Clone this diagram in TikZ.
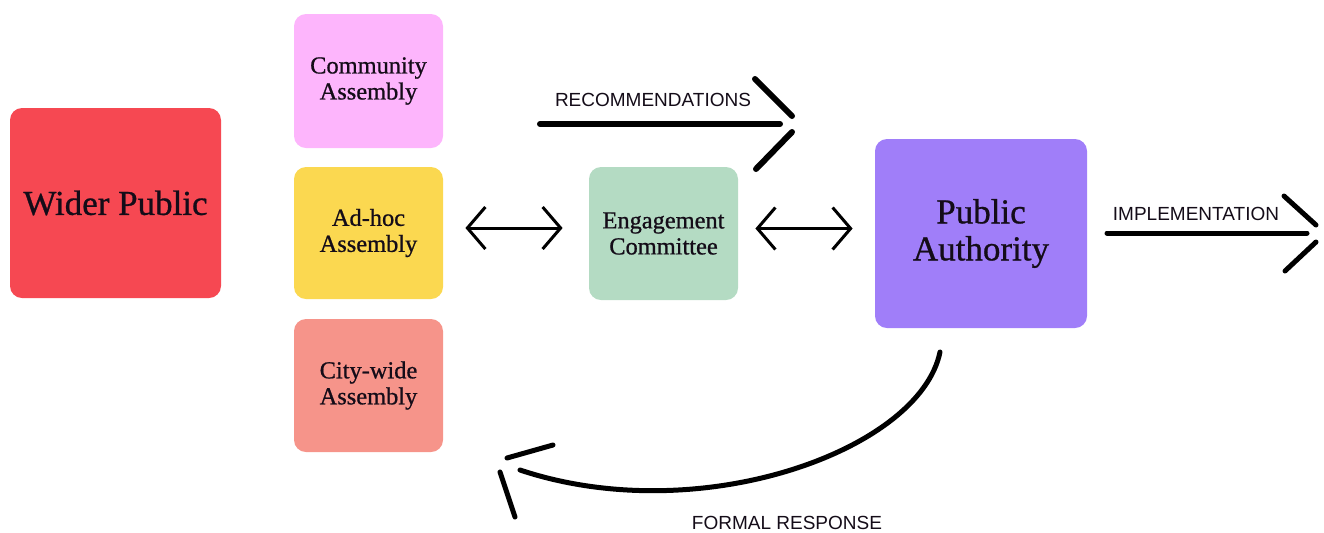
\documentclass[tikz,border=0pt]{standalone}
\usepackage{fontspec}
\setmainfont{Liberation Serif}
\setsansfont{Liberation Sans}
\newfontfamily\boxfont{Liberation Serif}[FakeBold=0.8]
\usetikzlibrary{arrows.meta}
\definecolor{cRed}{HTML}{F64852}
\definecolor{cPink}{HTML}{FDB5FC}
\definecolor{cYellow}{HTML}{FBD850}
\definecolor{cSalmon}{HTML}{F6948A}
\definecolor{cGreen}{HTML}{B4DBC3}
\definecolor{cPurple}{HTML}{A07EF9}
\definecolor{ink}{HTML}{140C18}
\begin{document}
\begin{tikzpicture}[x=0.5pt,y=-0.5pt,
  box/.style={rectangle, rounded corners=6pt, align=center, inner sep=0pt,
    text=ink, font=\boxfont\fontsize{12.2}{13}\selectfont},
  smallbox/.style={box, minimum width=74.5pt},
  bigbox/.style={box, font=\boxfont\fontsize{17.5}{18.5}\selectfont},
  lbl/.style={font=\sffamily\fontsize{9.5}{11}\selectfont, text=ink, inner sep=0pt},
  thickline/.style={line width=3pt, line cap=round, draw=black},
  curveline/.style={line width=2.5pt, line cap=round, draw=black},
  dbl/.style={line width=1.5pt, draw=black,
    {Straight Barb[length=9pt,width=21pt,line width=1.5pt]}-{Straight Barb[length=9pt,width=21pt,line width=1.5pt]}}]
\useasboundingbox (0,0) rectangle (1324,532);

% boxes
\node[bigbox, fill=cRed, minimum width=105.5pt, minimum height=95pt] (wider) at (115.5,203) {Wider Public};
\node[smallbox, fill=cPink, minimum height=67pt] (comm) at (368.5,81) {Community\\Assembly};
\node[smallbox, fill=cYellow, minimum height=66pt] (adhoc) at (368.5,233) {Ad-hoc\\Assembly};
\node[smallbox, fill=cSalmon, minimum height=66.5pt] (city) at (368.5,385.5) {City-wide\\Assembly};
\node[smallbox, fill=cGreen, minimum height=66.5pt] (eng) at (663.5,233.5) {Engagement\\Committee};
\node[bigbox, fill=cPurple, minimum width=106pt, minimum height=94.5pt] (pa) at (981,233.5) {Public\\Authority};

% double arrows
\draw[dbl, shorten <=11pt, shorten >=13pt]
  ([yshift=2.5pt]adhoc.east) -- ([yshift=2.5pt]adhoc.east -| eng.west);
\draw[dbl, shorten <=8.5pt, shorten >=11pt]
  ([yshift=2.5pt]eng.east) -- ([yshift=2.5pt]eng.east -| pa.west);

% recommendations
\coordinate (recS) at (540,124);
\coordinate (recT) at (795,124);
\draw[thickline] (recS) -- ([xshift=-7.5pt]recT);
\draw[thickline] ([shift={(-40,-45)}]recT) -- ([shift={(-3,-8)}]recT);
\draw[thickline] ([shift={(-3,8)}]recT) -- ([shift={(-39,45)}]recT);
\node[lbl] (reclbl) at (653,100) {RECOMMENDATIONS};

% implementation
\coordinate (impS) at (1107,233);
\coordinate (impT) at (1320,233);
\draw[line width=2.5pt, line cap=round] (impS) -- ([xshift=-6.5pt]impT);
\draw[line width=2.5pt, line cap=round] ([shift={(-36,-37)}]impT) -- ([shift={(-4,-8)}]impT);
\draw[line width=2.5pt, line cap=round] ([shift={(-4,9)}]impT) -- ([shift={(-35,38)}]impT);
\node[lbl] (implbl) at (1196,214) {IMPLEMENTATION};

% formal response
\coordinate (frS) at (940,352);
\coordinate (frE) at (520,470);
\coordinate (frT) at (503,466);
\draw[curveline] (frS) .. controls (920,450) and (700,530) .. (frE);
\draw[curveline] ([shift={(4,-8)}]frT) -- ([shift={(50,-21)}]frT);
\draw[curveline] ([shift={(-3,6)}]frT) -- ([shift={(12,51)}]frT);
\node[lbl] (frlbl) at (787,523) {FORMAL RESPONSE};
\end{tikzpicture}
\end{document}
